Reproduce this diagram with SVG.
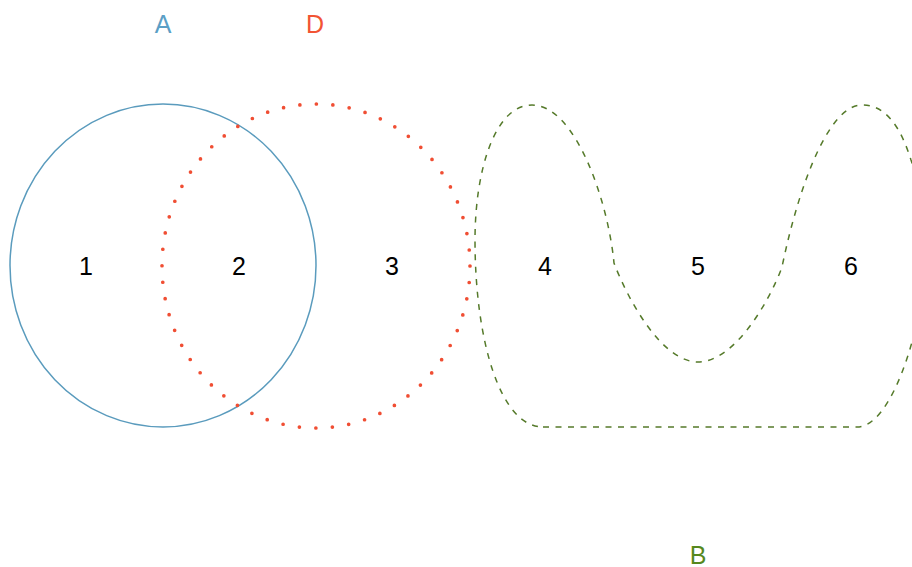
<svg xmlns="http://www.w3.org/2000/svg" width="912" height="567" viewBox="0 0 912 567">
<style>
.lbl{font-family:"Liberation Sans",Arial,sans-serif;font-size:25px;text-anchor:middle}
.num{fill:#000}
</style>
<rect width="912" height="567" fill="#fff"/>
<g id="setA">
<ellipse cx="163" cy="265.5" rx="153" ry="161.5" fill="none" stroke="#5a9bbd" stroke-width="1.5"/>
<text class="lbl" x="163" y="33" fill="#5b9fc6">A</text>
</g>
<g id="setD">
<ellipse cx="316" cy="266" rx="154" ry="162" fill="none" stroke="#f04e33" stroke-width="3.7" stroke-linecap="round" stroke-dasharray="0 16.55"/>
<text class="lbl" x="315" y="33" fill="#f25434">D</text>
</g>
<g id="setB">
<path d="M543,427 L857,427 C880,427 900,385 912,342 C925,295 925,200 911,160 C900,125 885,105 862,105 C830,105 800,180 782,267 C770,300 735,362 698,362 C662,362 628,300 614,263 C608,200 575,105 532,105 C495,105 475,170 475,240 C475,340 500,427 543,427 Z" fill="none" stroke="#557a2a" stroke-width="1.5" stroke-dasharray="6 6.5"/>
<text class="lbl" x="698" y="564" fill="#56881d">B</text>
</g>
<g id="regions">
<text class="lbl num" x="86" y="275">1</text>
<text class="lbl num" x="239" y="275">2</text>
<text class="lbl num" x="392" y="275">3</text>
<text class="lbl num" x="545" y="275">4</text>
<text class="lbl num" x="698" y="275">5</text>
<text class="lbl num" x="851" y="275">6</text>
</g>
<g id="connectors"/>
</svg>
